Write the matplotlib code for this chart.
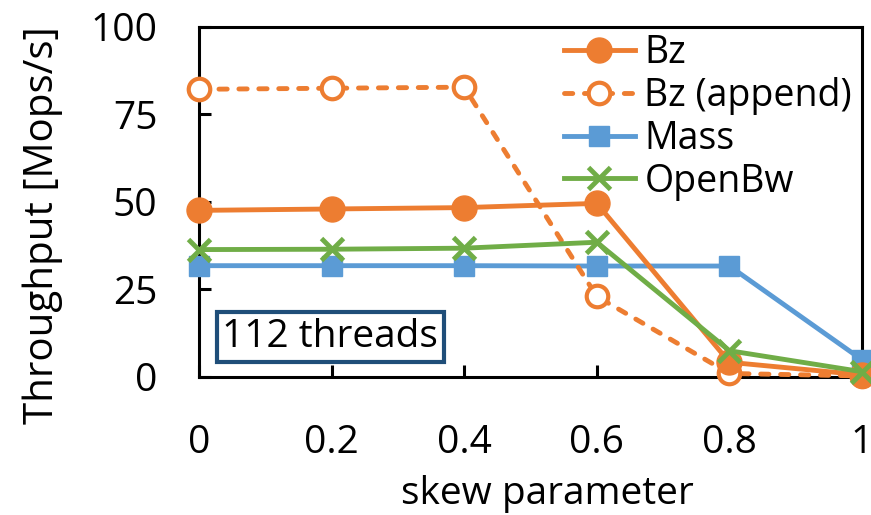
import matplotlib
matplotlib.use("Agg")
import matplotlib.pyplot as plt

x = [0, 0.2, 0.4, 0.6, 0.8, 1.0]
bz = [47.6, 48.0, 48.4, 49.6, 4.2, 0.6]
bz_append = [82.2, 82.5, 82.8, 23.0, 1.0, 0.3]
mass = [31.8, 31.8, 31.8, 31.7, 31.7, 4.9]
openbw = [36.4, 36.5, 36.8, 38.5, 7.5, 1.5]
xticks = [0, 0.2, 0.4, 0.6, 0.8, 1]
xticklabels = ["0", "0.2", "0.4", "0.6", "0.8", "1"]
yticks = [0, 25, 50, 75, 100]

plt.rcParams['font.family'] = ['Open Sans', 'DejaVu Sans']

fig = plt.figure(figsize=(8.71, 5.15), dpi=100)
ax = fig.add_axes([0.2285, 0.268, 0.7612, 0.6796])

orange = '#ED7D31'
blue = '#5B9BD5'
green = '#70AD47'
lw = 3.5

ax.plot(x, bz, color=orange, lw=lw, marker='o', ms=18, label='Bz', clip_on=False, zorder=5)
ax.plot(x, bz_append, color=orange, lw=lw, ls=(0, (1.7, 2.4)), dash_capstyle='round',
        marker='o', ms=15.5, mfc='white', mew=3, label='Bz (append)', clip_on=False, zorder=4)
ax.plot(x, mass, color=blue, lw=lw, marker='s', ms=14.5, label='Mass', clip_on=False, zorder=3)
ax.plot(x, openbw, color=green, lw=lw, marker='x', ms=16, mew=3.5, label='OpenBw', clip_on=False, zorder=6)

ax.set_xlim(0, 1)
ax.set_ylim(0, 100)
ax.set_xticks(xticks)
ax.set_xticklabels(xticklabels)
ax.set_yticks(yticks)
ax.tick_params(direction='in', length=8.5, width=2.2, labelsize=28)
ax.tick_params(axis='y', pad=30)
ax.tick_params(axis='x', pad=34)
for s in ax.spines.values():
    s.set_linewidth(2.2)

ax.set_xlabel('skew parameter', fontsize=28)
ax.set_ylabel('Throughput [Mops/s]', fontsize=29)
ax.xaxis.set_label_coords(0.525, -0.28)
ax.yaxis.set_label_coords(-0.205, 0.433)

leg = ax.legend(loc='upper right', frameon=False, fontsize=27, handlelength=1.9,
                borderaxespad=0.0, labelspacing=0.13, handletextpad=0.25,
                borderpad=0.0, bbox_to_anchor=(0.985, 0.98))

ax.text(0.198, 0.115, '112 threads', transform=ax.transAxes, fontsize=28,
        va='center', ha='center',
        bbox=dict(boxstyle='square,pad=0.15', fc='white', ec='#1F4E79', lw=3))

fig.savefig('out.png', dpi=100)
